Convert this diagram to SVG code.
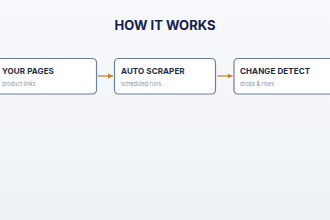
<svg xmlns="http://www.w3.org/2000/svg" width="330" height="220" viewBox="0 0 330 220">
<defs>
<linearGradient id="bg" x1="0" y1="0" x2="0" y2="1">
<stop offset="0" stop-color="#f8f9fc"/>
<stop offset="1" stop-color="#edf1f6"/>
</linearGradient>
<marker id="ah" markerWidth="6" markerHeight="6" refX="5" refY="3" orient="auto" markerUnits="userSpaceOnUse">
<path d="M0,0.5 L5,3 L0,5.5 Z" fill="#c97f22"/>
</marker>
<style>
.box{fill:#ffffff;stroke:#6d7fa0;stroke-width:1.2}
.t{font-family:Inter,"Liberation Sans",sans-serif;font-weight:700;font-size:8px;letter-spacing:0.1px;fill:#1f2a44}
.s{font-family:Inter,"Liberation Sans",sans-serif;font-size:5.5px;fill:#8a93a3}
.title{font-family:Inter,"Liberation Sans",sans-serif;font-weight:700;font-size:13px;fill:#12204f}
.c{stroke:#c97f22;stroke-width:1.2;fill:none}
</style>
</defs>
<rect width="330" height="220" fill="url(#bg)"/>
<text class="title" x="165" y="29.5" text-anchor="middle">HOW IT WORKS</text>
<g id="connectors">
<line class="c" x1="98" y1="76" x2="113" y2="76" marker-end="url(#ah)"/>
<line class="c" x1="217.5" y1="76" x2="232.5" y2="76" marker-end="url(#ah)"/>
</g>
<g id="node-your-pages">
<rect class="box" x="-5" y="58.5" width="101.5" height="35.5" rx="4"/>
<text class="t" x="2" y="74">YOUR PAGES</text>
<text class="s" x="2" y="85.5">product links</text>
</g>
<g id="node-auto-scraper">
<rect class="box" x="114.5" y="58.5" width="101" height="35.5" rx="4"/>
<text class="t" x="121" y="74">AUTO SCRAPER</text>
<text class="s" x="121" y="85.5">scheduled runs</text>
</g>
<g id="node-change-detect">
<rect class="box" x="234" y="58.5" width="101" height="35.5" rx="4"/>
<text class="t" x="240" y="74">CHANGE DETECT</text>
<text class="s" x="240" y="85.5">drops &amp; rises</text>
</g>
</svg>
